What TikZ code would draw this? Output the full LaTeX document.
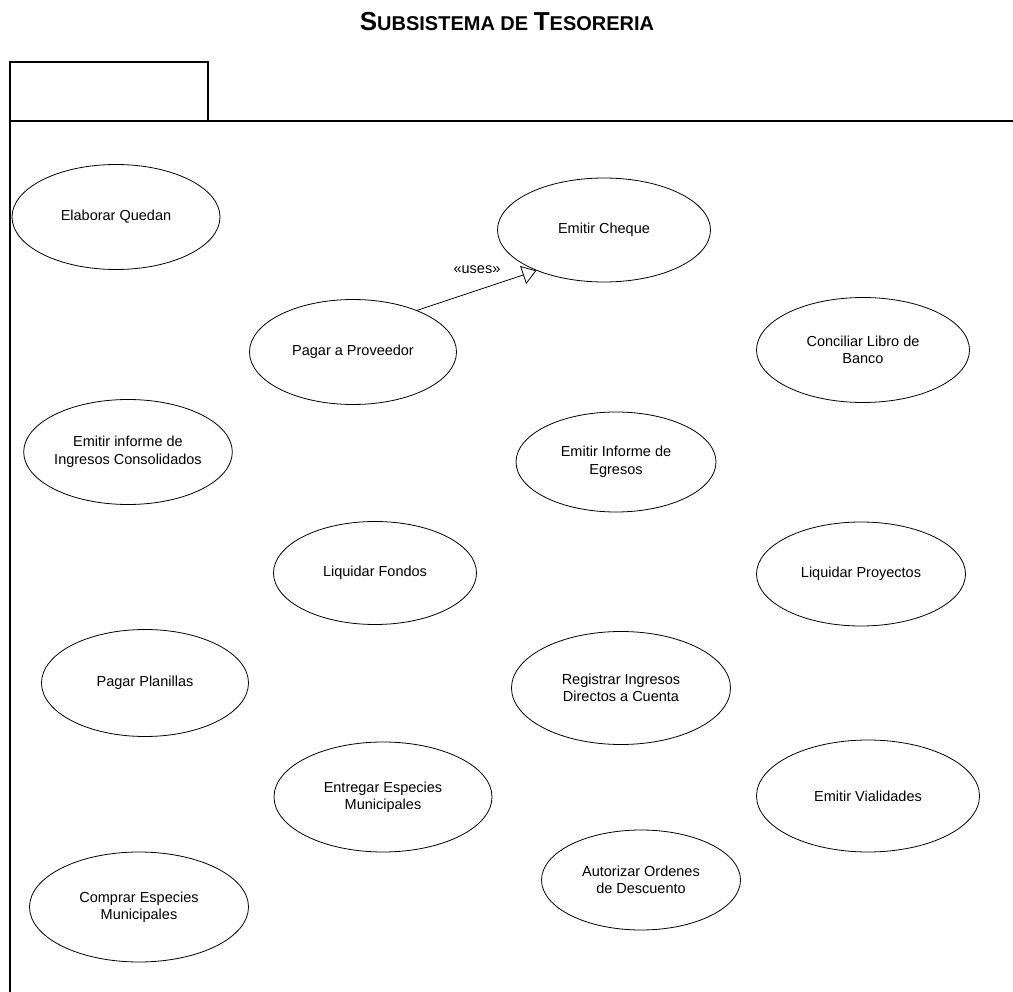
\documentclass[tikz,border=0pt]{standalone}
\usepackage{fontspec}
\setmainfont{Liberation Sans}
\usetikzlibrary{shapes.geometric,arrows.meta}
\tikzset{
    x=1pt, y=-1pt, % one unit per pixel, y growing downwards
    usecase/.style={ellipse, draw, line width=0.8pt, align=center,
        font=\fontsize{14.5}{17.5}\selectfont, inner sep=0pt}, % every use case
    uses/.style={-{Triangle[open,length=14pt,width=19pt]}, line width=0.8pt},
    frame/.style={line width=1.2pt},
}

\begin{document}
\begin{tikzpicture}
  \useasboundingbox (0,0) rectangle (1013,992);

  % title
  \node (title) at (507,22) {\bfseries\fontsize{26}{28}\selectfont S\fontsize{20}{22}\selectfont UBSISTEMA DE \fontsize{26}{28}\selectfont T\fontsize{20}{22}\selectfont ESORERIA};

  % package frame with its tab
  \draw[frame] (10,121) rectangle (208,62);
  \draw[frame] (10,992) -- (10,121) -- (1013,121);

  % use cases, left column
  \node[usecase, minimum width=208pt, minimum height=105pt] (quedan) at (116,217) {Elaborar Quedan};
  \node[usecase, minimum width=207pt, minimum height=105pt] (ingresos) at (128,452) {Emitir informe de\\Ingresos Consolidados};
  \node[usecase, minimum width=207pt, minimum height=107pt] (planillas) at (145,683) {Pagar Planillas};
  \node[usecase, minimum width=219pt, minimum height=110pt] (comprar) at (139,907) {Comprar Especies\\Municipales};

  % second column
  \node[usecase, minimum width=207pt, minimum height=105pt] (pagar) at (353,352) {Pagar a Proveedor};
  \node[usecase, minimum width=203pt, minimum height=103pt] (fondos) at (375,573) {Liquidar Fondos};
  \node[usecase, minimum width=218pt, minimum height=110pt] (entregar) at (383,797) {Entregar Especies\\Municipales};

  % third column
  \node[usecase, minimum width=213pt, minimum height=104pt] (cheque) at (604,230) {Emitir Cheque};
  \node[usecase, minimum width=200pt, minimum height=100pt] (egresos) at (616,462) {Emitir Informe de\\Egresos};
  \node[usecase, minimum width=219pt, minimum height=113pt] (directos) at (621,688) {Registrar Ingresos\\Directos a Cuenta};
  \node[usecase, minimum width=199pt, minimum height=100pt] (ordenes) at (641,880) {Autorizar Ordenes\\de Descuento};

  % right column
  \node[usecase, minimum width=213pt, minimum height=105pt] (banco) at (863,350) {Conciliar Libro de\\Banco};
  \node[usecase, minimum width=209pt, minimum height=104pt] (proyectos) at (861,574) {Liquidar Proyectos};
  \node[usecase, minimum width=223pt, minimum height=112pt] (vialidades) at (868,796) {Emitir Vialidades};

  % the only relation
  \draw[uses] (pagar.33) -- (cheque.211);
  \node[font=\fontsize{14.5}{17.5}\selectfont] (useslbl) at (477,270) {«uses»};
\end{tikzpicture}
\end{document}
